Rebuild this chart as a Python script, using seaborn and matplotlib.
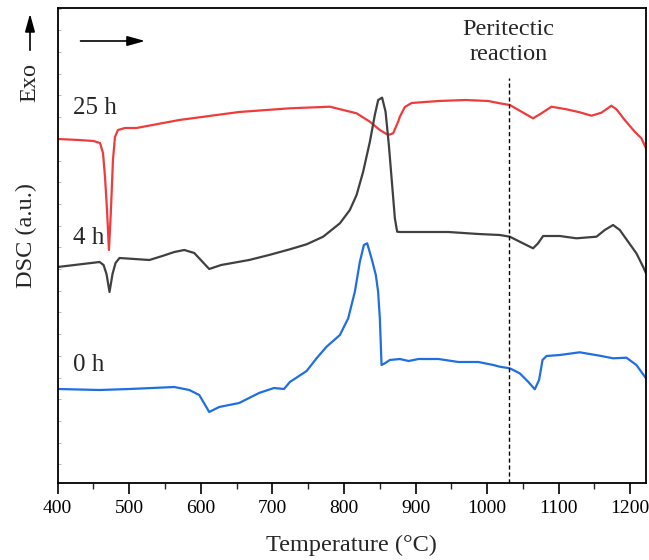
import numpy as np
import pandas as pd
import matplotlib
matplotlib.use("Agg")
import matplotlib.pyplot as plt
import seaborn as sns
from matplotlib.ticker import MultipleLocator, NullFormatter

# ---- data ----
t_25h = [400, 430, 450, 459.1, 463.3, 466.1, 468.9, 471.6, 474.4, 477.2, 480.0, 484.2, 494.0,
         510, 569.9, 653.5, 724.4, 780.3, 817.6, 836.2, 850.1, 861.7, 868.7, 875.7, 878.1,
         885, 894.5, 932.1, 969.7, 1001.7, 1017.7, 1031.7, 1045.6, 1064.2, 1075.9, 1089.9,
         1110.9, 1129.4, 1145.8, 1159.7, 1173.7, 1180.7, 1192.3, 1206.3, 1215.6, 1222]
dsc_25h = [347, 346, 345, 343, 333, 309, 276, 236, 276, 326, 349, 356, 358,
           358, 366, 374, 377.7, 379.3, 372.7, 364.3, 356, 351, 352.7, 364.3, 369.3,
           379, 383, 385, 386, 385, 382.7, 381, 375.3, 367.7, 372.7, 379.3,
           376.7, 373.7, 370.3, 373.3, 380.3, 376.7, 366, 354.3, 347.7, 337.7]

t_4h = [400, 458.5, 464.1, 468.2, 472.4, 476.6, 480.8, 486.4, 528.1, 546.2, 562.9, 576.9,
        590.8, 611.7, 628.4, 667.4, 695.3, 724.4, 747.8, 770.9, 794.3, 808.2, 817.6, 826.8,
        836.2, 843.1, 847.8, 853.3, 858.1, 862.7, 867.3, 871.1, 874.3, 878.1, 946, 987.8,
        1017.7, 1031.7, 1045.6, 1064.2, 1071.2, 1078.2, 1101.5, 1124.8, 1152.8, 1164.4,
        1176.0, 1185.4, 1197.0, 1208.6, 1217.9, 1222]
dsc_4h = [219, 224, 221, 212, 194, 212, 223, 228, 226, 230, 234, 236,
          233, 217, 221, 226, 231, 236.7, 241.7, 249.3, 262.7, 276, 291, 314.3,
          344.3, 371, 386, 388.3, 374.3, 341, 301, 267.7, 254.3, 254, 254, 252,
          251, 249.3, 244.3, 237.7, 242.7, 250, 250, 247.7, 249.3, 256,
          261, 256, 244.3, 232.7, 219.3, 212.7]

t_0h = [400, 458.5, 500.3, 562.9, 583.9, 597.8, 611.7, 625.6, 653.5, 681.3, 702.2, 716.2,
        724.4, 747.8, 761.7, 775.7, 794.3, 805.9, 815.2, 822.2, 827.8, 832.4, 838.5, 844.5,
        847.7, 850.1, 852.5, 857.1, 864.1, 878.1, 890.3, 904.2, 932.1, 959.9, 987.8, 1008.7,
        1017.7, 1031.7, 1045.6, 1057.3, 1066.6, 1072.6, 1077.4, 1083.0, 1101.5, 1129.4,
        1157.3, 1176.0, 1194.7, 1208.6, 1222]
dsc_0h = [97, 96, 97, 99, 96, 91, 74, 79, 83, 93, 98, 97,
          104, 115, 127.7, 139.3, 151, 167.7, 194.3, 224.3, 241, 242.7, 227.7, 211,
          194.3, 167.7, 121, 122.7, 126, 127, 125, 127, 127, 124, 124, 121,
          119.3, 117.7, 112.7, 104.3, 96.7, 106, 126, 130, 131, 133.7,
          130.3, 127.7, 128.3, 121, 107.7]

series_labels = ["25 h", "4 h", "0 h"]
series_colors = ["#EE3B3B", "#404040", "#1F6FE0"]
label_pos_y = [378, 248, 121]
x_ticks = [400, 500, 600, 700, 800, 900, 1000, 1100, 1200]
peritectic_T = 1030

frames = []
for lab, t, v in zip(series_labels, [t_25h, t_4h, t_0h], [dsc_25h, dsc_4h, dsc_0h]):
    frames.append(pd.DataFrame({"T": t, "DSC": v, "sample": lab}))
df = pd.concat(frames, ignore_index=True)

sns.set_theme(style="ticks")
plt.rcParams["font.family"] = ["Liberation Serif", "DejaVu Serif"]

fig = plt.figure(figsize=(6.49, 5.60), dpi=100)
ax = fig.add_axes([57.7 / 649, 1 - 483 / 560, (646 - 57.7) / 649, (483 - 8) / 560])

sns.lineplot(data=df, x="T", y="DSC", hue="sample", hue_order=series_labels,
             palette=series_colors, sort=False, estimator=None, linewidth=1.6,
             legend=False, ax=ax)

ax.set_xlim(400, 1222)
ax.set_ylim(3, 478)
ax.set_xticks(x_ticks)
ax.xaxis.set_minor_locator(MultipleLocator(50))
ax.tick_params(axis="x", which="major", direction="out", length=8, width=1.2,
               labelsize=14, pad=4, colors="black")
ax.tick_params(axis="x", which="minor", direction="out", length=4, width=1.0)
ax.set_yticks([])
ax.yaxis.set_minor_locator(MultipleLocator(21.7))
ax.yaxis.set_minor_formatter(NullFormatter())
ax.tick_params(axis="y", which="minor", direction="in", length=2, width=0.6, color="#AAAAAA")
for s in ax.spines.values():
    s.set_visible(True)
    s.set_linewidth(1.3)
    s.set_color("black")

ax.set_xlabel("Temperature (°C)", fontsize=17.5, labelpad=13)
ax.set_ylabel("DSC (a.u.)", fontsize=17.5)
ax.yaxis.set_label_coords(-0.035, 0.522)

# peritectic line and label
ax.plot([peritectic_T, peritectic_T], [3, 408], ls=(0, (3, 2)), color="black", lw=1.0)
ax.text(peritectic_T, 444, "Peritectic\nreaction", ha="center", va="center",
        fontsize=17.5, linespacing=1.25)

# series labels
for lab, y in zip(series_labels, label_pos_y):
    ax.text(421, y, lab, ha="left", va="center", fontsize=18)

# heating direction arrow
ax.annotate("", xy=(526, 445), xytext=(428, 445),
            arrowprops=dict(arrowstyle="-|>,head_length=0.9,head_width=0.25",
                            color="black", lw=1.2))

# Exo arrow (outside the axes)
fig.text(30 / 649, 1 - 82 / 560, "Exo", rotation=90, ha="center", va="center", fontsize=17.5)
ax.annotate("", xy=(30 / 649, 1 - 11 / 560), xytext=(30 / 649, 1 - 53 / 560),
            xycoords="figure fraction", textcoords="figure fraction",
            arrowprops=dict(arrowstyle="-|>,head_length=0.9,head_width=0.25",
                            color="black", lw=1.2))

fig.savefig("out.png", dpi=100)
